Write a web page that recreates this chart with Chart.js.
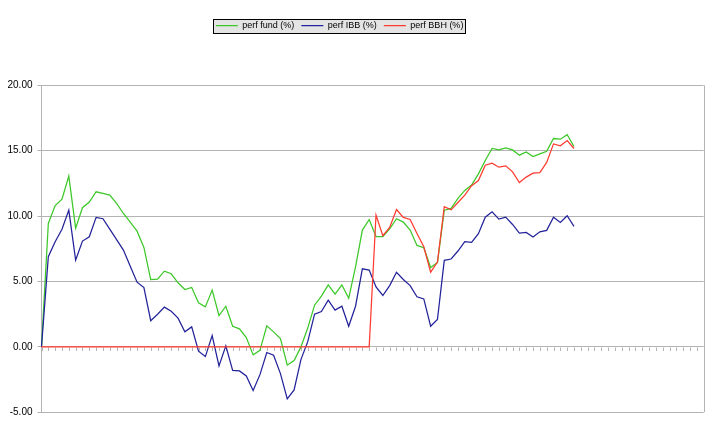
<!DOCTYPE html>
<html lang="en">
<head>
<meta charset="UTF-8">
<title>perf fund / IBB / BBH</title>
<script src="https://cdn.jsdelivr.net/npm/chart.js"></script>
<style>
  html, body { margin: 0; padding: 0; background: #fff; }
  #wrap { width: 716px; height: 435px; }
</style>
</head>
<body>
<div id="wrap"><canvas id="perfChart"></canvas></div>
<script>
// unlabeled periods along the category axis (series stop at the 79th)
const categories = Array.from({ length: 98 }, () => '');
const yTicks = [-5, 0, 5, 10, 15, 20];

const perfFund = [
  0, 9.44, 10.8, 11.3, 13.06, 9.08, 10.64, 11.07, 11.86, 11.73,
  11.6, 10.97, 10.2, 9.54, 8.85, 7.6, 5.15, 5.18, 5.79, 5.59,
  4.9, 4.39, 4.54, 3.37, 3.06, 4.34, 2.4, 3.11, 1.58, 1.38,
  0.71, -0.61, -0.26, 1.61, 1.15, 0.64, -1.38, -1.05, 0, 1.45,
  3.19, 3.88, 4.74, 4.03, 4.74, 3.72, 6.12, 8.93, 9.74, 8.44,
  8.44, 9.03, 9.8, 9.54, 8.93, 7.76, 7.58, 6.07, 6.45, 10.45,
  10.59, 11.35, 11.96, 12.37, 13.23, 14.25, 15.17, 15.06, 15.22, 15.06,
  14.66, 14.91, 14.55, 14.76, 14.96, 15.93, 15.88, 16.23, 15.32
];
const perfIBB = [
  0, 6.89, 8.04, 9.0, 10.46, 6.63, 8.09, 8.42, 9.9, 9.8,
  9.0, 8.2, 7.4, 6.17, 4.95, 4.54, 2.0, 2.5, 3.04, 2.73,
  2.2, 1.15, 1.53, -0.33, -0.74, 0.87, -1.45, 0.08, -1.79, -1.84,
  -2.22, -3.34, -2.12, -0.43, -0.64, -2.04, -3.98, -3.29, -0.97, 0.4,
  2.5, 2.7, 3.57, 2.81, 3.11, 1.58, 3.11, 5.97, 5.87, 4.59,
  3.93, 4.69, 5.71, 5.15, 4.69, 3.83, 3.67, 1.58, 2.09, 6.62,
  6.72, 7.33, 8.04, 7.99, 8.65, 9.92, 10.33, 9.77, 9.92, 9.36,
  8.7, 8.75, 8.4, 8.8, 8.91, 9.92, 9.52, 10.03, 9.21
];
const perfBBH = [
  0, 0, 0, 0, 0, 0, 0, 0, 0, 0,
  0, 0, 0, 0, 0, 0, 0, 0, 0, 0,
  0, 0, 0, 0, 0, 0, 0, 0, 0, 0,
  0, 0, 0, 0, 0, 0, 0, 0, 0, 0,
  0, 0, 0, 0, 0, 0, 0, 0, 0, 10.08,
  8.5, 9.13, 10.5, 9.9, 9.74, 8.67, 7.65, 5.71, 6.48, 10.72,
  10.48, 11.04, 11.6, 12.32, 12.72, 13.89, 14.05, 13.74, 13.84, 13.38,
  12.57, 12.98, 13.28, 13.33, 14.1, 15.52, 15.37, 15.78, 15.17
];

const gridColor = '#b3b3b3';
const font = 'Liberation Sans, Arial, sans-serif';

// legend frame, right border and the little category ticks on the zero line
const frame = {
  id: 'frame',
  afterLayout(chart) {
    chart.legend.left -= 16;
    chart.legend.right -= 16;
  },
  beforeDraw(chart) {
    const hb = chart.legend.legendHitBoxes;
    if (!hb || !hb.length) return;
    const last = hb[hb.length - 1];
    const l = Math.round(hb[0].left - 3) + 0.5;
    const r = Math.round(last.left + last.width + 1.5) + 0.5;
    const t = Math.round(hb[0].top - 2) + 0.5;
    const b = Math.round(hb[0].top + hb[0].height + 3) + 0.5;
    const ctx = chart.ctx;
    ctx.save();
    ctx.fillStyle = '#e4e4e4';
    ctx.fillRect(l, t, r - l, b - t);
    ctx.strokeStyle = '#000';
    ctx.lineWidth = 1;
    ctx.strokeRect(l, t, r - l, b - t);
    ctx.restore();
  },
  beforeDatasetsDraw(chart) {
    const { ctx, chartArea, scales: { x, y } } = chart;
    const y0 = Math.round(y.getPixelForValue(0)) + 0.5;
    ctx.save();
    ctx.strokeStyle = gridColor;
    ctx.lineWidth = 1;
    ctx.beginPath();
    categories.forEach((c, i) => {
      const px = Math.round(x.getPixelForValue(i)) + 0.5;
      ctx.moveTo(px, y0);
      ctx.lineTo(px, y0 + 3.5);
    });
    const rx = Math.round(chartArea.right) + 0.5;
    ctx.moveTo(rx, chartArea.top);
    ctx.lineTo(rx, chartArea.bottom);
    ctx.stroke();
    ctx.restore();
  }
};

const line = (label, data, color, order) => ({
  label: label,
  data: data,
  borderColor: color,
  backgroundColor: color,
  borderWidth: 1.25,
  pointRadius: 0,
  tension: 0,
  fill: false,
  order: order
});

new Chart(document.getElementById('perfChart'), {
  type: 'line',
  data: {
    labels: categories,
    datasets: [
      line('perf fund (%)', perfFund, '#3cc828', 3),
      line('perf IBB (%)', perfIBB, '#22229a', 2),
      line('perf BBH (%)', perfBBH, '#ff3b2f', 1)
    ]
  },
  plugins: [frame],
  options: {
    responsive: true,
    maintainAspectRatio: false,
    animation: false,
    layout: { padding: { top: 14, left: 7.5, right: 12.3, bottom: 22.7 } },
    plugins: {
      tooltip: { enabled: false },
      legend: {
        position: 'top',
        labels: {
          font: { family: font, size: 9 },
          color: '#000',
          usePointStyle: true,
          pointStyle: 'line',
          pointStyleWidth: 22,
          boxWidth: 22,
          padding: 7,
          sort: (a, b) => a.datasetIndex - b.datasetIndex
        }
      },
      // empty title used as spacer between legend and plot
      title: {
        display: true,
        text: ' ',
        weight: 500,
        font: { size: 10, lineHeight: 1.2 },
        padding: { top: 0, bottom: 33.3 }
      }
    },
    scales: {
      x: {
        display: false,
        offset: false
      },
      y: {
        min: -5,
        max: 20,
        afterBuildTicks: (scale) => { scale.ticks = yTicks.map(v => ({ value: v })); },
        afterFit: (scale) => { scale.width = 34; },
        ticks: {
          font: { family: font, size: 10 },
          color: '#000',
          padding: 5,
          callback: (v) => Number(v).toFixed(2)
        },
        grid: { color: gridColor, tickLength: 4, drawTicks: true },
        border: { display: true, color: gridColor }
      }
    }
  }
});
</script>
</body>
</html>
